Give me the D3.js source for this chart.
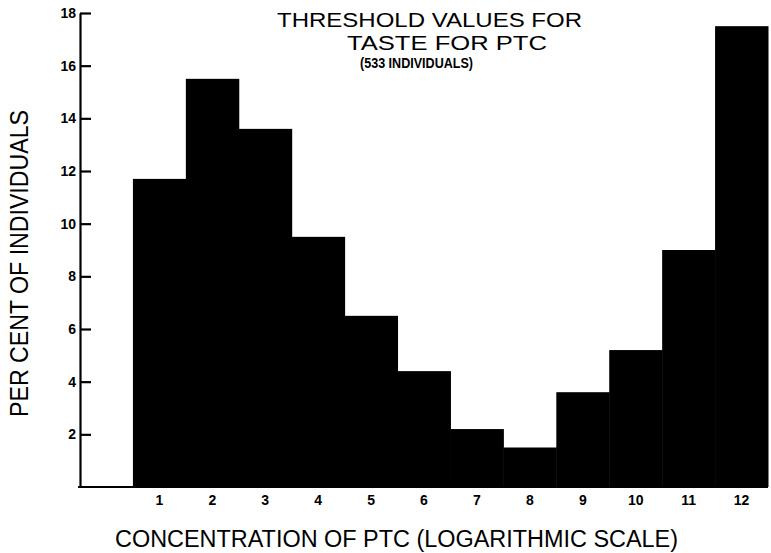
<!DOCTYPE html>
<html>
<head>
<meta charset="utf-8">
<script src="https://cdn.jsdelivr.net/npm/d3@7"></script>
<style>
  html, body { margin: 0; padding: 0; background: #fff; }
  svg { display: block; }
  text { font-family: "Liberation Sans", Arial, sans-serif; fill: #000; }
</style>
</head>
<body>
<svg id="chart" width="771" height="553"></svg>
<script>
// ---- data ----
const categories = ["1","2","3","4","5","6","7","8","9","10","11","12"];
const percents   = [11.7, 15.5, 13.6, 9.5, 6.5, 4.4, 2.2, 1.5, 3.6, 5.2, 9.0, 17.5];
const yTicks     = [2, 4, 6, 8, 10, 12, 14, 16, 18];
const titleLines = ["THRESHOLD VALUES FOR", "TASTE FOR PTC", "(533 INDIVIDUALS)"];
const xTitle     = "CONCENTRATION OF PTC (LOGARITHMIC SCALE)";
const yTitle     = "PER CENT OF INDIVIDUALS";

const svg = d3.select("#chart");

// first slot is empty (zero concentration column)
const x = d3.scaleBand()
  .domain([""].concat(categories))
  .range([80, 768])
  .paddingInner(0).paddingOuter(0);

const y = d3.scaleLinear().domain([0, 18]).range([487, 13]);

// bars
svg.append("g").selectAll("rect")
  .data(categories.map((c, i) => ({c, v: percents[i]})))
  .join("rect")
  .attr("x", d => x(d.c))
  .attr("y", d => y(d.v))
  .attr("width", x.bandwidth() + 0.5)
  .attr("height", d => y(0) - y(d.v))
  .attr("fill", "#000");

// y axis
const yAxis = d3.axisLeft(y)
  .tickValues(yTicks)
  .tickSizeInner(-11)
  .tickSizeOuter(0)
  .tickPadding(4)
  .tickFormat(d3.format("d"));

const gy = svg.append("g")
  .attr("transform", "translate(80,0)")
  .call(yAxis);
gy.select(".domain").attr("stroke", "#000").attr("stroke-width", 2.2);
gy.selectAll(".tick line").attr("stroke", "#000").attr("stroke-width", 2.2);
gy.selectAll(".tick text")
  .attr("font-size", 14).attr("font-weight", "bold")
  .attr("font-family", "'Liberation Sans', Arial, sans-serif");

// x axis (baseline + numeric labels)
const xAxis = d3.axisBottom(x)
  .tickValues(categories)
  .tickSize(0)
  .tickPadding(8);
const gx = svg.append("g")
  .attr("transform", `translate(0,${y(0)})`)
  .call(xAxis);
gx.select(".domain").remove();
gx.selectAll(".tick text")
  .attr("font-size", 14).attr("font-weight", "bold")
  .attr("font-family", "'Liberation Sans', Arial, sans-serif");

svg.append("line")
  .attr("x1", 78).attr("x2", 768)
  .attr("y1", y(0)).attr("y2", y(0))
  .attr("stroke", "#000").attr("stroke-width", 2.2);

// title
svg.append("text")
  .attr("x", 277).attr("y", 27)
  .attr("font-size", 20)
  .attr("textLength", 305).attr("lengthAdjust", "spacingAndGlyphs")
  .text(titleLines[0]);
svg.append("text")
  .attr("x", 347).attr("y", 50)
  .attr("font-size", 20)
  .attr("textLength", 200).attr("lengthAdjust", "spacingAndGlyphs")
  .text(titleLines[1]);
svg.append("text")
  .attr("x", 360).attr("y", 68)
  .attr("font-size", 15).attr("font-weight", "bold")
  .attr("textLength", 113).attr("lengthAdjust", "spacingAndGlyphs")
  .text(titleLines[2]);

// x title
svg.append("text")
  .attr("x", 115).attr("y", 547)
  .attr("font-size", 23)
  .attr("textLength", 563).attr("lengthAdjust", "spacingAndGlyphs")
  .text(xTitle);

// y title
svg.append("text")
  .attr("transform", "translate(28,417) rotate(-90)")
  .attr("x", 0).attr("y", 0)
  .attr("font-size", 26)
  .attr("textLength", 307).attr("lengthAdjust", "spacingAndGlyphs")
  .text(yTitle);
</script>
</body>
</html>
